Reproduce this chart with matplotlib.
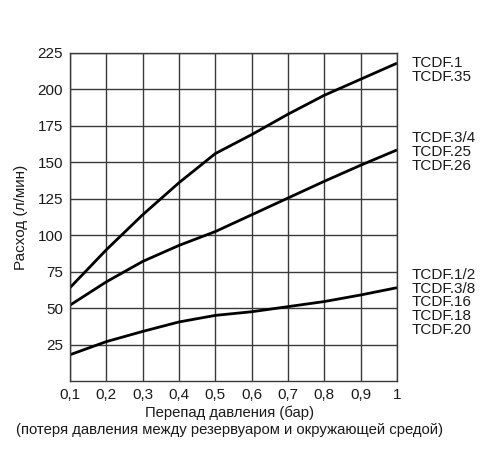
import matplotlib
matplotlib.use("Agg")
import matplotlib.pyplot as plt

plt.rcParams['font.family'] = ['Liberation Sans', 'DejaVu Sans']

# Pressure drop (bar) and flow rate (l/min) for each filter group
pressure = [0.1, 0.2, 0.3, 0.4, 0.5, 0.6, 0.7, 0.8, 0.9, 1.0]
flow_large = [64, 90, 114, 136, 156, 169, 183, 196, 207, 218]
flow_medium = [52, 68, 82, 93, 102.5, 114, 125.5, 137, 148, 158.5]
flow_small = [18, 27, 34, 40.5, 45, 47.5, 51, 54.5, 59, 64]

labels_large = ["TCDF.1", "TCDF.35"]
labels_medium = ["TCDF.3/4", "TCDF.25", "TCDF.26"]
labels_small = ["TCDF.1/2", "TCDF.3/8", "TCDF.16", "TCDF.18", "TCDF.20"]

x_ticks = [0.1, 0.2, 0.3, 0.4, 0.5, 0.6, 0.7, 0.8, 0.9, 1.0]
x_tick_labels = ["0,1", "0,2", "0,3", "0,4", "0,5", "0,6", "0,7", "0,8", "0,9", "1"]
y_ticks = [25, 50, 75, 100, 125, 150, 175, 200, 225]

fs = 11
fig = plt.figure(figsize=(4.88, 4.54), dpi=100)
ax = fig.add_axes([0.1434, 0.1608, 0.6701, 0.7225])

grid_color = "#3a3a3a"
ax.set_xlim(0.1, 1.0)
ax.set_ylim(0, 225)
ax.set_xticks(x_ticks)
ax.set_xticklabels(x_tick_labels)
ax.set_yticks(y_ticks)
ax.grid(True, color=grid_color, linewidth=1.0)
ax.set_axisbelow(True)
for s in ax.spines.values():
    s.set_color(grid_color)
    s.set_linewidth(1.0)
ax.tick_params(length=0, labelsize=fs, pad=5, colors="#1a1a1a")

for series in (flow_large, flow_medium, flow_small):
    ax.plot(pressure, series, color="black", linewidth=2.0, solid_capstyle="butt")

# Group labels to the right of each curve
group_centers = [213.5, 157, 54]
for names, yc in zip((labels_large, labels_medium, labels_small), group_centers):
    ax.text(1.046, yc, "\n".join(names), transform=ax.get_yaxis_transform(),
            ha="left", va="center", fontsize=fs, linespacing=0.97, color="#1a1a1a")

ax.set_ylabel("Расход (л/мин)", fontsize=fs, labelpad=7, color="#1a1a1a")
fig.text(0.471, 0.09, "Перепад давления (бар)", ha="center", va="center",
         fontsize=10.7, color="#1a1a1a")
fig.text(0.471, 0.052, "(потеря давления между резервуаром и окружающей средой)",
         ha="center", va="center", fontsize=10.7, color="#1a1a1a")

fig.savefig("out.png", dpi=100)
